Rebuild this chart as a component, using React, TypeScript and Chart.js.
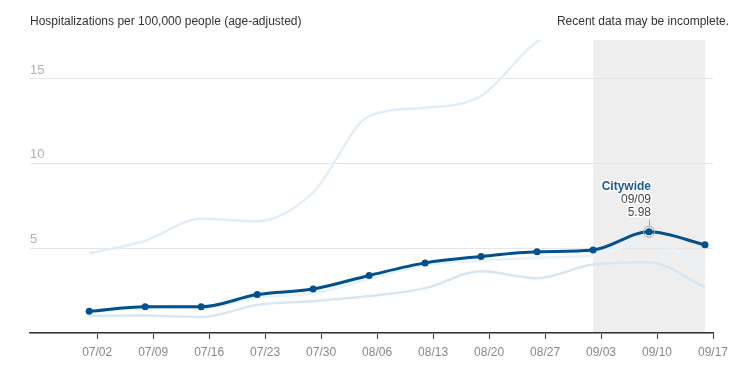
import React, { useEffect, useRef } from "react";
import { Chart, registerables } from "chart.js";

Chart.register(...registerables);

// ---- Data ----
const DATES = ["07/01", "07/08", "07/15", "07/22", "07/29", "08/05", "08/12", "08/19", "08/26", "09/02", "09/09", "09/16"];
const X_TICK_LABELS = ["07/02", "07/09", "07/16", "07/23", "07/30", "08/06", "08/13", "08/20", "08/27", "09/03", "09/10", "09/17"];
const Y_TICKS = [0, 5, 10, 15];

const CITYWIDE = [1.28, 1.55, 1.55, 2.27, 2.6, 3.4, 4.14, 4.52, 4.8, 4.9, 5.98, 5.21];
const AREA_HIGH = [4.7, 5.45, 6.75, 6.6, 8.3, 12.8, 13.3, 14.0, 17.2, 18.4, 19.0, 18.3];
const AREA_MID = [1.24, 1.48, 1.47, 2.1, 2.33, 3.2, 4.02, 4.27, 4.45, 4.57, 5.5, 3.7];
const AREA_LOW = [1.0, 1.03, 0.94, 1.66, 1.88, 2.18, 2.65, 3.65, 3.24, 4.04, 4.18, 2.7];

const INCOMPLETE_FROM = "09/02";
const INCOMPLETE_TO = "09/16";
const HIGHLIGHT = "09/09";

const TITLE = "Hospitalizations per 100,000 people (age-adjusted)";
const NOTE = "Recent data may be incomplete.";
const SERIES_NAME = "Citywide";

const BASE = DATES[0];
const dayOf = (s: string) => {
  const [m, d] = s.split("/").map(Number);
  const [bm, bd] = BASE.split("/").map(Number);
  return Math.round((Date.UTC(2020, m - 1, d) - Date.UTC(2020, bm - 1, bd)) / 86400000);
};

const X_MIN = -7.4;
const X_MAX = dayOf(X_TICK_LABELS[X_TICK_LABELS.length - 1]);
const Y_MAX = 17.3;

const FONT = "'Liberation Sans', Arial, sans-serif";

const toPoints = (vals: number[]) => vals.map((v, i) => ({ x: dayOf(DATES[i]), y: v }));

const shadePlugin = {
  id: "shade",
  beforeDraw(chart: any) {
    const { ctx, chartArea, scales } = chart;
    const x0 = scales.x.getPixelForValue(dayOf(INCOMPLETE_FROM));
    const x1 = scales.x.getPixelForValue(dayOf(INCOMPLETE_TO));
    ctx.save();
    ctx.fillStyle = "#eeeeee";
    ctx.fillRect(x0, chartArea.top, x1 - x0, chartArea.bottom - chartArea.top);
    ctx.restore();
  },
};

const markerPlugin = {
  id: "marker",
  afterDatasetsDraw(chart: any) {
    const { ctx, scales } = chart;
    const idx = DATES.indexOf(HIGHLIGHT);
    const px = scales.x.getPixelForValue(dayOf(HIGHLIGHT));
    const py = scales.y.getPixelForValue(CITYWIDE[idx]);
    ctx.save();
    ctx.strokeStyle = "#a8a8a8";
    ctx.lineWidth = 1;
    ctx.beginPath();
    ctx.arc(px, py, 5.5, 0, Math.PI * 2);
    ctx.stroke();
    ctx.beginPath();
    ctx.moveTo(px + 0.5, py - 5.5);
    ctx.lineTo(px + 0.5, py - 12);
    ctx.stroke();

    const tx = px + 2;
    ctx.textAlign = "right";
    ctx.textBaseline = "alphabetic";
    ctx.lineJoin = "round";
    const lines: [string, string, string, number][] = [
      [SERIES_NAME, "bold 12px " + FONT, "#175c97", py - 41.5],
      [HIGHLIGHT, "12px " + FONT, "#444444", py - 28.5],
      [CITYWIDE[idx].toFixed(2), "12px " + FONT, "#444444", py - 15.8],
    ];
    for (const [t, f, c, y] of lines) {
      ctx.font = f;
      ctx.strokeStyle = "#ffffff";
      ctx.lineWidth = 3;
      ctx.strokeText(t, tx, y);
      ctx.fillStyle = c;
      ctx.fillText(t, tx, y);
    }
    ctx.restore();
  },
};

export default function App() {
  const ref = useRef<HTMLCanvasElement | null>(null);

  useEffect(() => {
    if (!ref.current) return;
    Chart.defaults.font.family = FONT;
    const faint = (data: number[], color: string) => ({
      data: toPoints(data),
      borderColor: color,
      backgroundColor: color,
      borderWidth: 2.5,
      pointRadius: 0,
      pointHoverRadius: 0,
      cubicInterpolationMode: "monotone" as const,
      clip: 0,
    });
    const chart = new Chart(ref.current, {
      type: "line",
      data: {
        datasets: [
          {
            label: SERIES_NAME,
            data: toPoints(CITYWIDE),
            borderColor: "#02508c",
            backgroundColor: "#02508c",
            borderWidth: 3,
            pointRadius: 3.5,
            pointBorderWidth: 0,
            pointHoverRadius: 3.5,
            cubicInterpolationMode: "monotone",
            clip: 0,
          },
          faint(AREA_MID, "#e7f2fb"),
          faint(AREA_LOW, "#d7e6f2"),
          faint(AREA_HIGH, "#e1eefa"),
        ],
      },
      options: {
        animation: false,
        responsive: false,
        events: [],
        layout: { padding: { left: 30, right: 28, top: 40, bottom: 0 } },
        plugins: { legend: { display: false }, tooltip: { enabled: false }, title: { display: false } },
        scales: {
          x: {
            type: "linear",
            min: X_MIN,
            max: X_MAX,
            afterBuildTicks: (scale: any) => {
              scale.ticks = X_TICK_LABELS.map((l) => ({ value: dayOf(l) }));
            },
            afterFit: (scale: any) => {
              scale.height = 38;
            },
            grid: { drawOnChartArea: false, drawTicks: true, tickLength: 6, tickColor: "#333333", tickWidth: 1 },
            border: { display: true, color: "#333333", width: 1.5 },
            ticks: {
              autoSkip: false,
              maxRotation: 0,
              padding: 6,
              color: "#888888",
              font: { size: 12, family: FONT },
              callback: (v: any) => {
                const i = X_TICK_LABELS.findIndex((l) => dayOf(l) === v);
                return i >= 0 ? X_TICK_LABELS[i] : "";
              },
            },
          },
          y: {
            type: "linear",
            min: 0,
            max: Y_MAX,
            afterBuildTicks: (scale: any) => {
              scale.ticks = Y_TICKS.map((v) => ({ value: v }));
            },
            afterFit: (scale: any) => {
              scale.width = 0;
            },
            grid: { color: "#e6e6e6", lineWidth: 1, drawTicks: false },
            border: { display: false },
            ticks: {
              mirror: true,
              padding: 0,
              labelOffset: -9,
              color: "#b0b0b0",
              font: { size: 13, family: FONT },
              callback: (v: any) => (v === 0 ? "" : String(v)),
            },
          },
        },
      },
      plugins: [shadePlugin, markerPlugin],
    });
    return () => chart.destroy();
  }, []);

  return (
    <div style={{ position: "absolute", left: 0, top: 0, width: 741, height: 371, fontFamily: FONT }}>
      <canvas ref={ref} width={741} height={371} style={{ display: "block", width: 741, height: 371 }} />
      <div style={{ position: "absolute", left: 30, top: 14, fontSize: 12, lineHeight: "14px", color: "#333333", whiteSpace: "nowrap" }}>
        {TITLE}
      </div>
      <div style={{ position: "absolute", right: 12, top: 14, fontSize: 12, lineHeight: "14px", color: "#333333", whiteSpace: "nowrap" }}>
        {NOTE}
      </div>
    </div>
  );
}
